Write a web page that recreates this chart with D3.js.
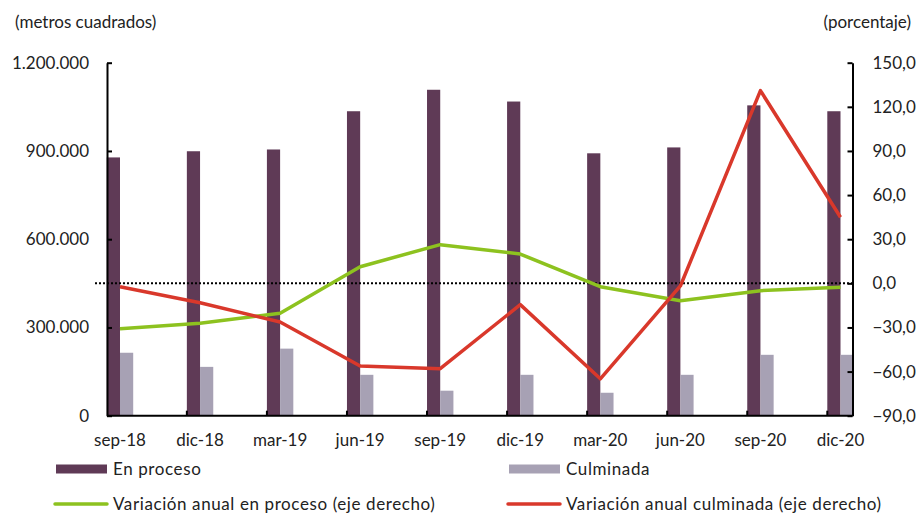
<!DOCTYPE html>
<html>
<head>
<meta charset="utf-8">
<script src="https://cdn.jsdelivr.net/npm/d3@7"></script>
<style>
  body { margin: 0; background: #fff; }
  svg text { font-family: Lato, "Open Sans", sans-serif; fill: #222; }
</style>
</head>
<body>
<div id="chart"></div>
<script>
// data
var categories = ['sep-18', 'dic-18', 'mar-19', 'jun-19', 'sep-19', 'dic-19', 'mar-20', 'jun-20', 'sep-20', 'dic-20'];
var enProceso = [878000, 899000, 905000, 1035000, 1108000, 1068000, 892000, 912000, 1055000, 1035000];
var culminada = [214000, 166000, 228000, 139000, 85000, 139000, 78000, 139000, 207000, 207000];
var varEnProceso = [-30.9, -27.2, -20.4, 11.3, 26.3, 19.9, -2.3, -11.8, -5.0, -2.7];
var varCulminada = [-2.3, -13.2, -26.3, -56.2, -58.0, -14.5, -64.9, -1.8, 131.0, 44.9];
var leftTicks = [0, 300000, 600000, 900000, 1200000];
var rightTicks = [-90, -60, -30, 0, 30, 60, 90, 120, 150];

var W = 919, H = 514;
var svg = d3.select('#chart').append('svg')
  .attr('width', W)
  .attr('height', H);

var axisLeftX = 107, axisRightX = 852.5;
var plotTop = 62.7, plotBottom = 415.7;
var barW = 13.2;
var fs = 17;

var x = d3.scalePoint().domain(categories).range([120, 840.5]);
var yL = d3.scaleLinear().domain([0, 1200000]).range([plotBottom, plotTop]);
var yR = d3.scaleLinear().domain([-90, 150]).range([plotBottom, plotTop]);

var fmtL = function (v) { return d3.format(',')(v).replace(/,/g, '.'); };
var fmtR = function (v) { return d3.format('.1f')(v).replace('.', ','); };

// bars
svg.append('g').selectAll('rect').data(enProceso).enter().append('rect')
  .attr('x', function (d, i) { return x(categories[i]) - barW; })
  .attr('y', function (d) { return yL(d); })
  .attr('width', barW)
  .attr('height', function (d) { return plotBottom - yL(d); })
  .attr('fill', '#5f3a56');

svg.append('g').selectAll('rect').data(culminada).enter().append('rect')
  .attr('x', function (d, i) { return x(categories[i]); })
  .attr('y', function (d) { return yL(d); })
  .attr('width', barW)
  .attr('height', function (d) { return plotBottom - yL(d); })
  .attr('fill', '#a7a1b4');

// zero line (right axis)
svg.append('line')
  .attr('x1', 95).attr('x2', axisRightX)
  .attr('y1', yR(0)).attr('y2', yR(0))
  .attr('stroke', '#000')
  .attr('stroke-width', 2)
  .attr('stroke-dasharray', '2,2');

// lines
var line = function (vals) {
  return d3.line()
    .x(function (d, i) { return x(categories[i]); })
    .y(function (d) { return yR(d); })(vals);
};
svg.append('path').attr('d', line(varEnProceso))
  .attr('fill', 'none').attr('stroke', '#8dc21f').attr('stroke-width', 3.5)
  .attr('stroke-linejoin', 'round');
svg.append('path').attr('d', line(varCulminada))
  .attr('fill', 'none').attr('stroke', '#d9382b').attr('stroke-width', 3.5)
  .attr('stroke-linejoin', 'round');

// axes
var gL = svg.append('g').attr('transform', 'translate(' + axisLeftX + ',0)')
  .call(d3.axisLeft(yL).tickValues(leftTicks).tickFormat(fmtL).tickSizeInner(-5).tickSizeOuter(0).tickPadding(18));
var gR = svg.append('g').attr('transform', 'translate(' + axisRightX + ',0)')
  .call(d3.axisRight(yR).tickValues(rightTicks).tickFormat(fmtR).tickSizeInner(-5).tickSizeOuter(0).tickPadding(20));
[gL, gR].forEach(function (g) {
  g.select('.domain').attr('stroke', '#000').attr('stroke-width', 2);
  g.selectAll('.tick line').attr('stroke', '#000').attr('stroke-width', 2);
  g.selectAll('.tick text').attr('font-size', fs).attr('font-family', 'Lato, sans-serif').attr('fill', '#222');
});

// category axis
var gX = svg.append('g');
gX.append('line')
  .attr('x1', axisLeftX).attr('x2', axisRightX)
  .attr('y1', plotBottom).attr('y2', plotBottom)
  .attr('stroke', '#000').attr('stroke-width', 2);
gX.selectAll('.xt').data(categories.slice(1)).enter().append('line')
  .attr('x1', function (d) { return x(d) - barW; })
  .attr('x2', function (d) { return x(d) - barW; })
  .attr('y1', plotBottom).attr('y2', plotBottom - 5)
  .attr('stroke', '#000').attr('stroke-width', 2);
gX.selectAll('text').data(categories).enter().append('text')
  .attr('x', function (d) { return x(d); })
  .attr('y', 446)
  .attr('text-anchor', 'middle')
  .attr('font-size', fs)
  .text(function (d) { return d; });

// units
svg.append('text').attr('x', 15).attr('y', 28).attr('font-size', fs).text('(metros cuadrados)');
svg.append('text').attr('x', 911).attr('y', 28).attr('font-size', fs).attr('text-anchor', 'end').text('(porcentaje)');

// legend
var legend = [
  { name: 'En proceso', type: 'bar', c: '#5f3a56', x: 56, y: 469 },
  { name: 'Culminada', type: 'bar', c: '#a7a1b4', x: 509, y: 469 },
  { name: 'Variación anual en proceso (eje derecho)', type: 'line', c: '#8dc21f', x: 56, y: 504 },
  { name: 'Variación anual culminada (eje derecho)', type: 'line', c: '#d9382b', x: 509, y: 504 }
];
legend.forEach(function (l) {
  if (l.type === 'bar') {
    svg.append('rect').attr('x', l.x).attr('y', l.y - 4.5).attr('width', 51).attr('height', 9).attr('fill', l.c);
  } else {
    svg.append('line').attr('x1', l.x - 1).attr('x2', l.x + 51).attr('y1', l.y).attr('y2', l.y)
      .attr('stroke', l.c).attr('stroke-width', 3.5).attr('stroke-linecap', 'round');
  }
  svg.append('text').attr('x', l.x + 57).attr('y', l.y + 6).attr('font-size', fs)
    .attr('letter-spacing', 0.6).text(l.name);
});
</script>
</body>
</html>
